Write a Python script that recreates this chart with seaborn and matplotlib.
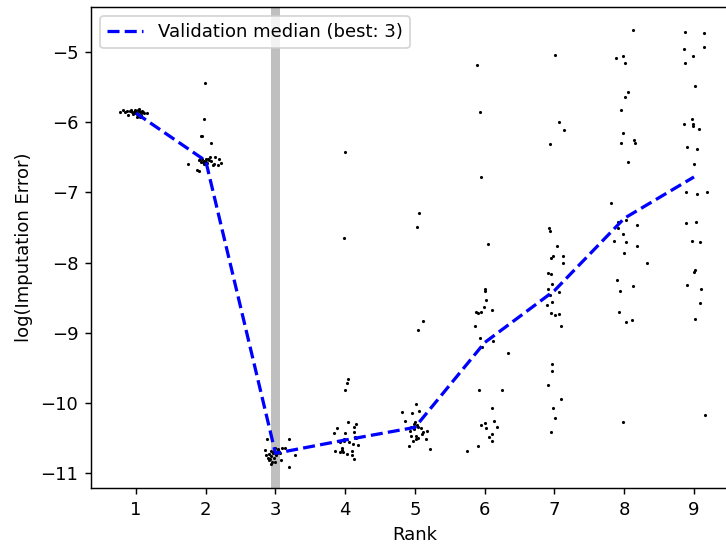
import pandas as pd
import seaborn as sns
import matplotlib.pyplot as plt

# Median per rank (validation) and the best rank
ranks = [1, 2, 3, 4, 5, 6, 7, 8, 9]
median_err = [-5.87, -6.55, -10.72, -10.53, -10.35, -9.14, -8.40, -7.37, -6.78]
best_rank = 3

# Individual runs (jittered rank, log error)
x1 = [0.77, 0.82, 0.85, 0.89, 0.91, 0.95, 0.99, 1.01, 1.03, 1.06, 1.07, 1.09, 1.12, 1.16,
      0.93, 0.97, 1.00, 1.04, 1.02, 0.98, 1.05, 1.08, 0.96, 1.10, 1.03, 0.87, 1.01, 1.06]
y1 = [-5.85, -5.83, -5.85, -5.89, -5.84, -5.86, -5.83, -5.87, -5.82, -5.85, -5.89, -5.84, -5.87, -5.87,
      -5.82, -5.85, -5.86, -5.84, -5.88, -5.87, -5.81, -5.86, -5.88, -5.85, -5.90, -5.84, -5.92, -5.93]

x2 = [1.99, 1.98, 1.94, 2.07, 1.93, 1.75, 1.87, 1.90, 1.90, 1.93, 1.95, 1.98, 2.00, 2.02, 2.05,
      2.06, 2.10, 2.12, 2.14, 2.17, 2.19, 2.22, 1.96, 2.03, 1.97, 2.08, 2.00, 1.92]
y2 = [-5.44, -5.96, -6.19, -6.30, -6.19, -6.59, -6.68, -6.70, -6.54, -6.57, -6.53, -6.55, -6.52, -6.58,
      -6.54, -6.50, -6.61, -6.59, -6.50, -6.61, -6.52, -6.58, -6.56, -6.53, -6.60, -6.55, -6.57, -6.52]

x3 = [2.88, 3.19, 2.99, 3.03, 3.10, 3.14, 2.85, 2.93, 2.97, 3.00, 2.96, 3.02, 2.91, 3.06, 2.87,
      2.94, 2.90, 2.98, 3.28, 3.08, 2.91, 2.95, 2.93, 2.99, 3.20, 3.01, 2.92, 3.04]
y3 = [-10.51, -10.52, -10.64, -10.66, -10.65, -10.65, -10.67, -10.69, -10.70, -10.70, -10.72, -10.72,
      -10.73, -10.71, -10.75, -10.76, -10.78, -10.78, -10.75, -10.81, -10.82, -10.84, -10.87, -10.85,
      -10.91, -10.74, -10.80, -10.68]

x4 = [4.00, 3.98, 4.04, 4.03, 3.99, 4.04, 3.88, 3.84, 3.99, 4.13, 4.15, 4.12, 4.14, 4.15, 3.98,
      3.93, 3.98, 4.05, 4.11, 4.18, 3.95, 3.96, 3.85, 4.10, 3.93, 3.97, 4.03, 4.10, 4.13]
y4 = [-6.43, -7.65, -9.66, -9.72, -9.81, -10.28, -10.36, -10.43, -10.43, -10.34, -10.30, -10.41,
      -10.48, -10.50, -10.51, -10.56, -10.54, -10.56, -10.59, -10.60, -10.64, -10.67, -10.68, -10.68,
      -10.70, -10.70, -10.73, -10.74, -10.80]

x5 = [5.06, 5.03, 5.12, 5.05, 5.02, 4.82, 4.96, 5.06, 4.85, 5.00, 5.03, 4.95, 4.99, 5.05, 4.93,
      5.11, 5.17, 5.10, 5.01, 4.95, 5.16, 5.01, 5.04, 4.97, 4.91, 5.21, 5.08, 4.98]
y5 = [-7.30, -7.49, -8.83, -8.96, -10.01, -10.13, -10.15, -10.12, -10.26, -10.27, -10.31, -10.35,
      -10.38, -10.34, -10.40, -10.42, -10.40, -10.44, -10.47, -10.47, -10.51, -10.52, -10.50, -10.55,
      -10.61, -10.66, -10.36, -10.30]

x6 = [5.89, 5.93, 5.94, 6.05, 6.00, 6.01, 6.02, 5.99, 5.95, 5.88, 5.91, 6.11, 5.86, 5.93, 5.96,
      6.12, 6.34, 5.92, 6.25, 6.11, 5.95, 6.01, 6.02, 6.13, 6.18, 6.06, 6.10, 6.10, 5.90, 5.74]
y6 = [-5.18, -5.85, -6.78, -7.73, -8.38, -8.41, -8.53, -8.64, -8.70, -8.71, -8.72, -8.67, -8.90,
      -9.07, -9.20, -9.12, -9.29, -9.81, -9.82, -10.08, -10.32, -10.29, -10.36, -10.26, -10.34,
      -10.49, -10.44, -10.55, -10.61, -10.68]

x7 = [7.01, 7.07, 7.14, 6.94, 6.92, 6.93, 7.03, 6.95, 6.98, 7.12, 7.12, 6.90, 6.95, 6.96, 6.91,
      6.94, 7.06, 6.97, 6.89, 6.95, 7.01, 7.06, 7.10, 6.97, 6.97, 6.91, 7.10, 6.98, 7.01, 6.95]
y7 = [-5.04, -5.99, -6.11, -6.31, -7.51, -7.55, -7.77, -7.94, -7.90, -7.90, -8.00, -8.15, -8.17,
      -8.31, -8.38, -8.46, -8.42, -8.56, -8.60, -8.72, -8.75, -8.73, -8.90, -9.44, -9.54, -9.74,
      -9.95, -10.08, -10.22, -10.41]

x8 = [8.13, 7.88, 7.98, 8.01, 8.06, 8.01, 7.96, 7.98, 7.96, 8.14, 8.16, 8.05, 7.81, 7.91, 8.03,
      7.91, 8.18, 7.98, 7.86, 8.02, 8.18, 7.99, 8.32, 7.90, 8.13, 7.94, 7.93, 8.03, 8.11, 7.98]
y8 = [-4.68, -5.09, -5.06, -5.15, -5.57, -5.64, -5.82, -6.15, -6.29, -6.26, -6.30, -6.57, -7.15,
      -7.42, -7.40, -7.51, -7.46, -7.60, -7.70, -7.71, -7.77, -7.86, -8.00, -8.25, -8.33, -8.40,
      -8.71, -8.85, -8.82, -10.27]

x9 = [8.875, 9.15, 8.85, 9.15, 8.98, 8.87, 9.02, 8.97, 8.86, 8.99, 8.99, 9.07, 8.90, 9.05, 9.00,
      8.89, 9.05, 9.18, 8.89, 9.03, 8.97, 9.08, 9.00, 9.02, 8.90, 9.10, 9.08, 9.02, 9.16]
y9 = [-4.72, -4.73, -4.96, -4.93, -5.05, -5.15, -5.49, -5.96, -6.03, -6.03, -6.05, -6.09, -6.36,
      -6.38, -6.59, -7.00, -7.02, -7.00, -7.43, -7.42, -7.70, -7.71, -8.14, -8.11, -8.32, -8.38,
      -8.57, -8.80, -10.18]

runs = pd.DataFrame({
    'rank': x1 + x2 + x3 + x4 + x5 + x6 + x7 + x8 + x9,
    'err': y1 + y2 + y3 + y4 + y5 + y6 + y7 + y8 + y9,
})
med = pd.DataFrame({'rank': ranks, 'err': median_err})

fig = plt.figure(figsize=(726 / 130, 545 / 130), dpi=130)
ax = fig.add_axes([0.1253, 0.1046, 0.8926, 0.8826])

# highlight the best rank
ax.axvline(best_rank, color='gray', alpha=0.5, linewidth=5, zorder=1)

sns.scatterplot(data=runs, x='rank', y='err', ax=ax, s=3, color='k', linewidth=0, zorder=2)
sns.lineplot(data=med, x='rank', y='err', ax=ax, color='b', linestyle='--', linewidth=1.8,
             label='Validation median (best: %d)' % best_rank, zorder=3)

ax.set_xlim(0.355, 9.645)
ax.set_ylim(-11.214, -4.357)
ax.set_xticks(ranks)
ax.set_xlabel('Rank')
ax.set_ylabel('log(Imputation Error)')
ax.legend(loc='upper left')

fig.savefig('out.png', dpi=130)
